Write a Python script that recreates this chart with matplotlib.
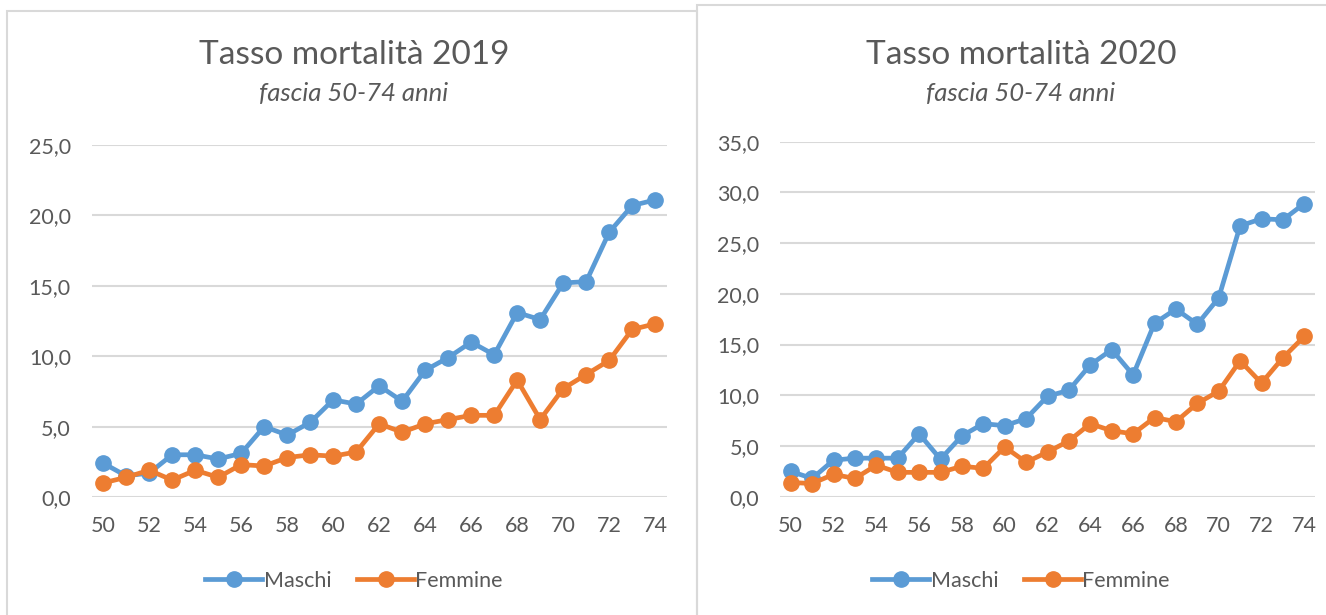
import matplotlib.pyplot as plt
from matplotlib.patches import Rectangle
from matplotlib.ticker import FuncFormatter, MultipleLocator

ages = list(range(50, 75))

maschi_2019 = [2.4, 1.5, 1.7, 3.0, 3.0, 2.7, 3.1, 5.0, 4.4, 5.3, 6.9, 6.6, 7.9,
               6.8, 9.0, 9.9, 11.0, 10.1, 13.1, 12.6, 15.2, 15.3, 18.8, 20.7, 21.1]
femmine_2019 = [1.0, 1.4, 1.9, 1.2, 1.9, 1.4, 2.3, 2.2, 2.8, 3.0, 2.9, 3.2, 5.2,
                4.6, 5.2, 5.5, 5.8, 5.8, 8.3, 5.5, 7.7, 8.7, 9.7, 11.9, 12.3]
maschi_2020 = [2.5, 1.8, 3.6, 3.8, 3.8, 3.8, 6.2, 3.7, 6.0, 7.2, 7.0, 7.7, 9.9,
               10.5, 13.0, 14.5, 12.0, 17.1, 18.5, 17.0, 19.6, 26.7, 27.4, 27.3, 28.9]
femmine_2020 = [1.4, 1.3, 2.2, 1.8, 3.1, 2.4, 2.4, 2.4, 3.0, 2.8, 4.9, 3.4, 4.4,
                5.5, 7.2, 6.5, 6.2, 7.8, 7.4, 9.2, 10.4, 13.4, 11.2, 13.7, 15.8]

blue = '#5B9BD5'
orange = '#ED7D31'
grey = '#595959'
plt.rcParams['font.family'] = ['Lato', 'DejaVu Sans']

fig = plt.figure(figsize=(13.26, 6.15), dpi=100)

# chart borders
fig.patches.append(Rectangle((7 / 1326, -0.01), 690 / 1326, 1 - 11 / 615 + 0.01,
                             transform=fig.transFigure, fill=False,
                             edgecolor='#D9D9D9', lw=1.5))
fig.patches.append(Rectangle((697 / 1326, -0.01), 640 / 1326, 1 - 5 / 615 + 0.01,
                             transform=fig.transFigure, fill=False,
                             edgecolor='#D9D9D9', lw=1.5))


def draw(rect, maschi, femmine, ymax, title, cx):
    ax = fig.add_axes(rect)
    ax.plot(ages, maschi, color=blue, lw=3.4, marker='o', ms=11, label='Maschi')
    ax.plot(ages, femmine, color=orange, lw=3.4, marker='o', ms=11, label='Femmine')
    ax.set_xlim(49.5, 74.5)
    ax.set_ylim(0, ymax)
    ax.xaxis.set_major_locator(MultipleLocator(2))
    ax.yaxis.set_major_locator(MultipleLocator(5))
    ax.yaxis.set_major_formatter(FuncFormatter(lambda v, p: f'{v:.1f}'.replace('.', ',')))
    ax.grid(axis='y', color='#D9D9D9', lw=1.5)
    ax.set_axisbelow(True)
    for s in ax.spines.values():
        s.set_visible(False)
    ax.tick_params(length=0, labelsize=15.5, labelcolor=grey, pad=14)
    ax.tick_params(axis='y', pad=15)
    for ln in ax.lines:
        ln.set_clip_on(False)
    fig.text(cx, 1 - 55 / 615, title, ha='center', va='center', fontsize=24,
             color=grey)
    fig.text(cx, 1 - 94 / 615, 'fascia 50-74 anni', ha='center', va='center',
             fontsize=18.5, color=grey, style='italic')
    fig.legend(handles=ax.lines, loc='center', bbox_to_anchor=(cx, 1 - 581 / 615),
               ncol=2, frameon=False, fontsize=15.5, labelcolor=grey,
               handlelength=2.65, handletextpad=0.05, columnspacing=1.2)
    return ax


draw([91.7 / 1326, 1 - 497 / 615, 575 / 1326, 352 / 615],
     maschi_2019, femmine_2019, 25, 'Tasso mortalità 2019', 354 / 1326)
draw([780 / 1326, 1 - 496.7 / 615, 535 / 1326, 355 / 615],
     maschi_2020, femmine_2020, 35, 'Tasso mortalità 2020', 1021 / 1326)

fig.savefig('out.png', dpi=100)
